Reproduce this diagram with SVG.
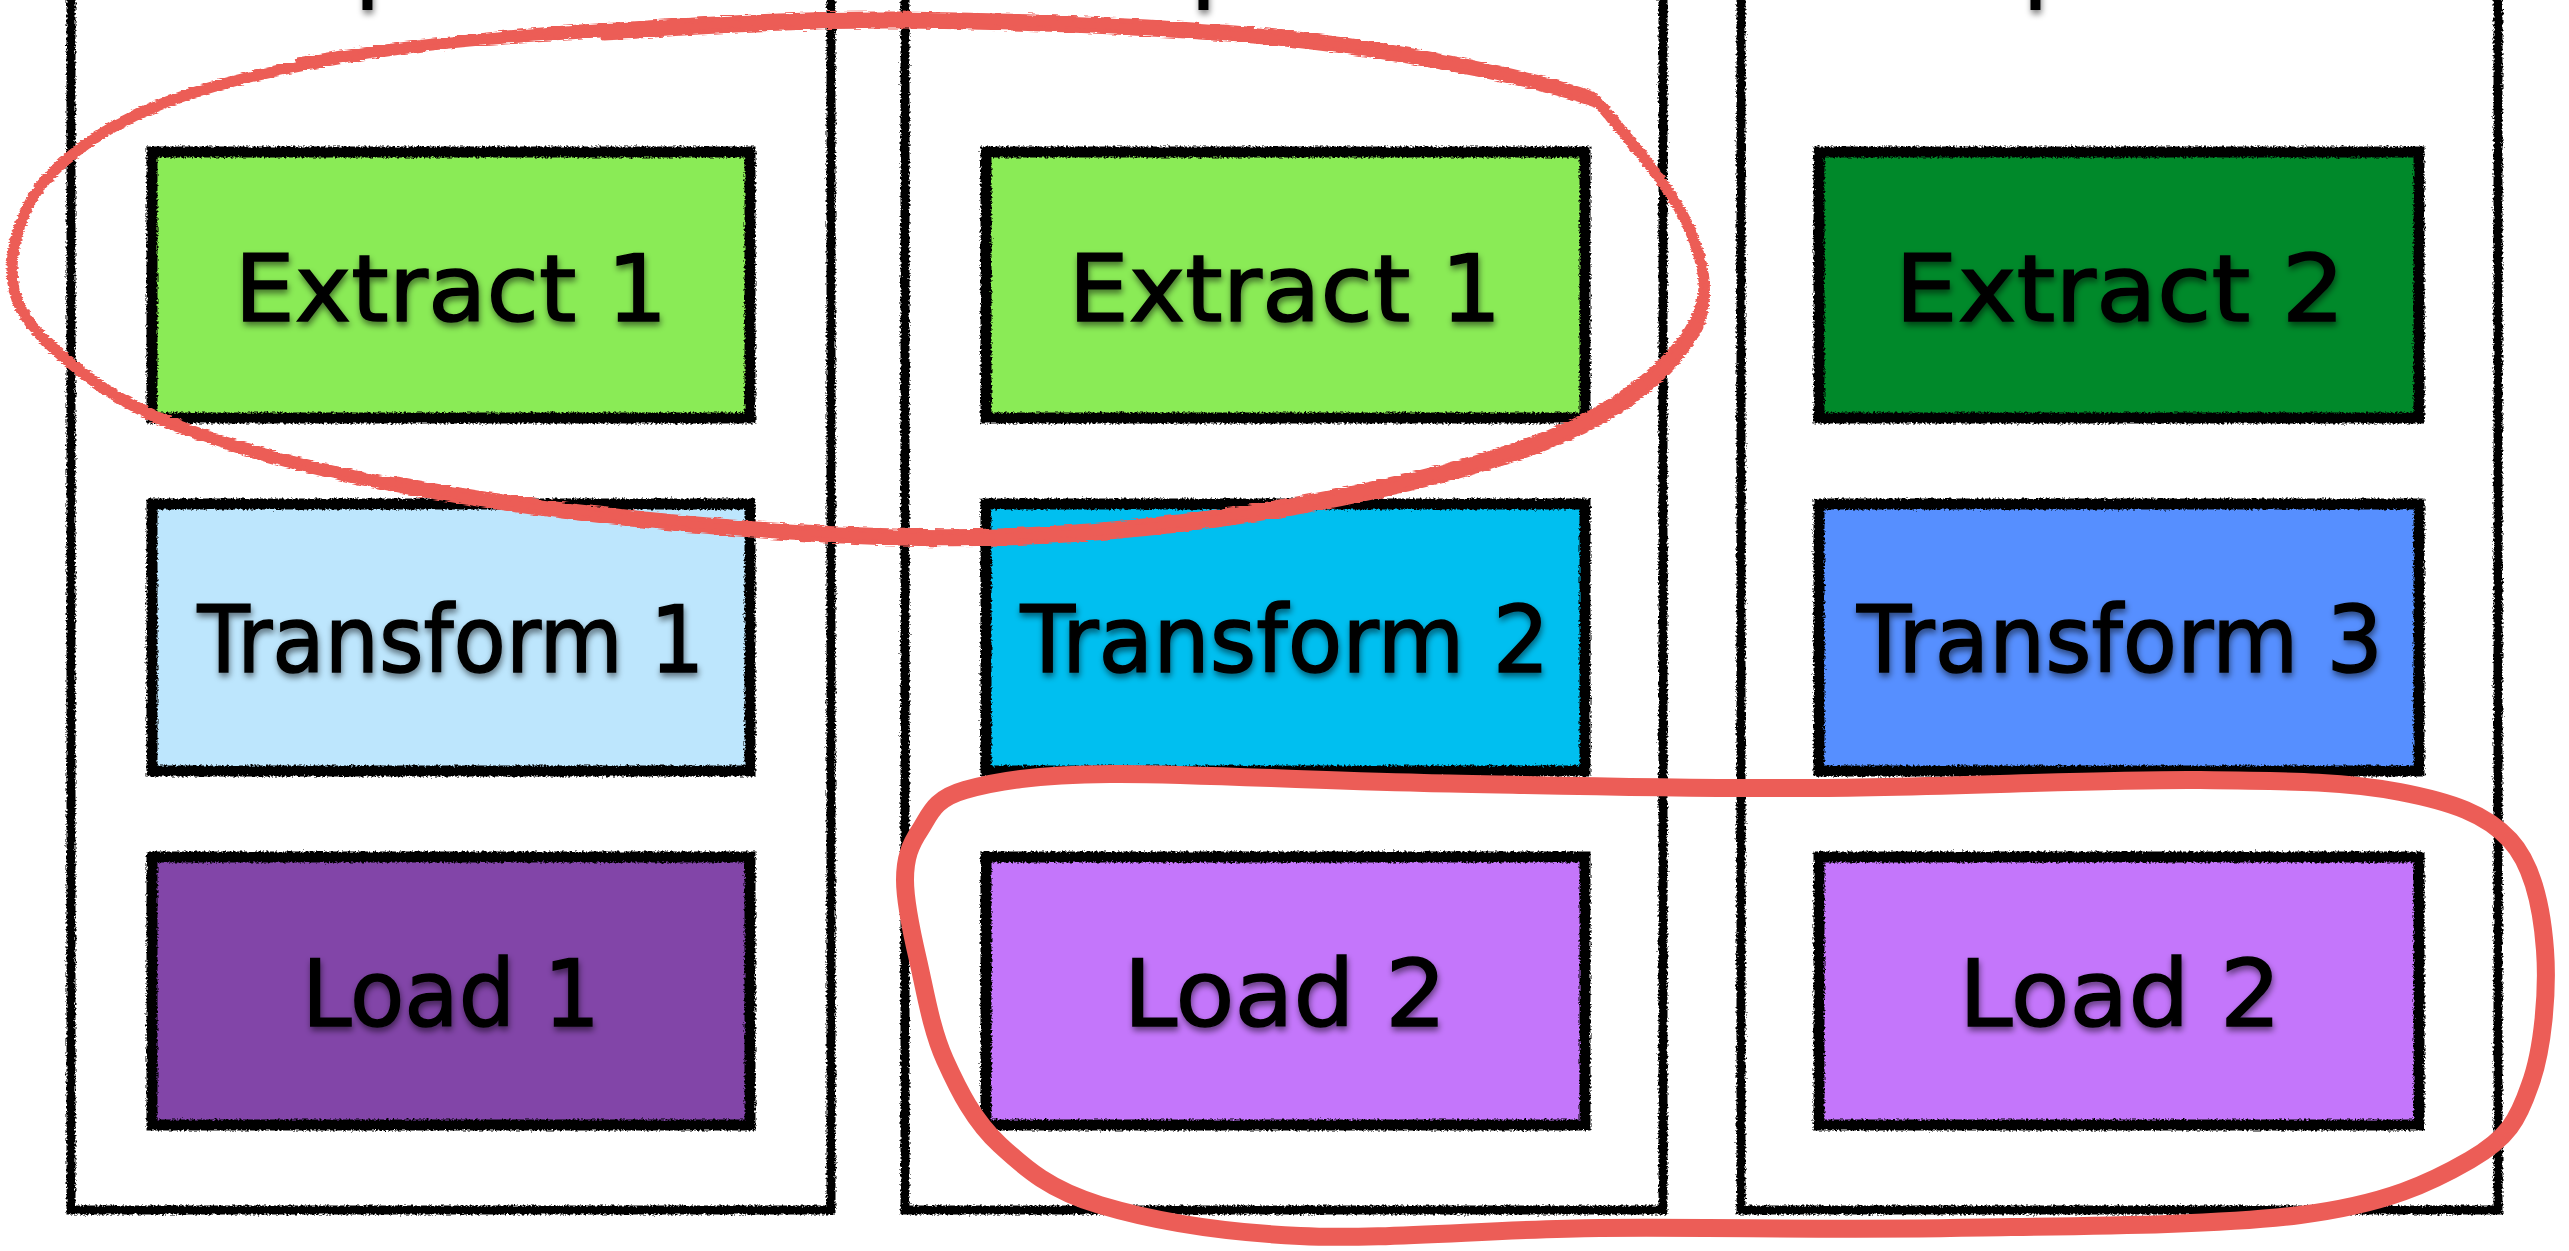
<svg xmlns="http://www.w3.org/2000/svg" width="2569" height="1251" viewBox="0 0 2569 1251">
<defs>
<style>
.col{fill:#ffffff;stroke:#000;stroke-width:9;filter:url(#rough)}
.box{stroke:#000;stroke-width:11;filter:url(#rough)}
.lbl{font-family:Chalkboard,"Comic Sans MS","DejaVu Sans",sans-serif;font-size:93px;fill:#000;stroke:#000;stroke-width:1.5;text-anchor:middle;filter:url(#shadow)}
.ttl{font-family:Chalkboard,"Comic Sans MS","DejaVu Sans",sans-serif;font-size:110px;fill:#000;filter:url(#shadow)}
.red{fill:none;stroke:#EC5D57;stroke-linecap:round;stroke-linejoin:round}
</style>
<filter id="rough" x="-3%" y="-3%" width="106%" height="106%">
<feTurbulence type="fractalNoise" baseFrequency="0.45" numOctaves="2" seed="4" result="n"/>
<feDisplacementMap in="SourceGraphic" in2="n" scale="5" xChannelSelector="R" yChannelSelector="G"/>
</filter>
<filter id="sketch" x="-3%" y="-5%" width="106%" height="110%">
<feTurbulence type="fractalNoise" baseFrequency="0.08 0.6" numOctaves="2" seed="7" result="n"/>
<feDisplacementMap in="SourceGraphic" in2="n" scale="5" xChannelSelector="R" yChannelSelector="G"/>
</filter>
<filter id="shadow" x="-10%" y="-20%" width="120%" height="150%">
<feGaussianBlur in="SourceAlpha" stdDeviation="3"/>
<feOffset dx="1" dy="4" result="b"/>
<feComponentTransfer><feFuncA type="linear" slope="0.5"/></feComponentTransfer>
<feMerge><feMergeNode/><feMergeNode in="SourceGraphic"/></feMerge>
</filter>
</defs>
<rect width="2569" height="1251" fill="#ffffff"/>

<g id="pipeline1">
<rect class="col" x="71" y="-40" width="760" height="1250"/>
<text class="ttl" x="258" y="-13">Pipeline 1</text>
</g>
<g id="pipeline2">
<rect class="col" x="905" y="-40" width="758" height="1250"/>
<text class="ttl" x="1094" y="-13">Pipeline 2</text>
</g>
<g id="pipeline3">
<rect class="col" x="1741" y="-40" width="757" height="1250"/>
<text class="ttl" x="1926" y="-13">Pipeline 3</text>
</g>

<g id="extract1a">
<rect class="box" x="152" y="152" width="598" height="266" fill="#8AEB56"/>
<text class="lbl" x="451" y="321" textLength="433" lengthAdjust="spacingAndGlyphs">Extract 1</text>
</g>
<g id="transform1">
<rect class="box" x="152" y="504" width="598" height="267" fill="#BDE6FD"/>
<text class="lbl" x="451" y="672" textLength="507" lengthAdjust="spacingAndGlyphs">Transform 1</text>
</g>
<g id="load1">
<rect class="box" x="152" y="857" width="598" height="268" fill="#8245A8"/>
<text class="lbl" x="451" y="1026" textLength="298" lengthAdjust="spacingAndGlyphs">Load 1</text>
</g>

<g id="extract1b">
<rect class="box" x="986" y="152" width="599" height="266" fill="#8AEB56"/>
<text class="lbl" x="1285" y="321" textLength="433" lengthAdjust="spacingAndGlyphs">Extract 1</text>
</g>
<g id="transform2">
<rect class="box" x="986" y="504" width="599" height="267" fill="#00BFF0"/>
<text class="lbl" x="1285" y="672" textLength="529" lengthAdjust="spacingAndGlyphs">Transform 2</text>
</g>
<g id="load2a">
<rect class="box" x="986" y="857" width="599" height="268" fill="#C476FB"/>
<text class="lbl" x="1285" y="1026" textLength="323" lengthAdjust="spacingAndGlyphs">Load 2</text>
</g>

<g id="extract2">
<rect class="box" x="1819" y="152" width="600" height="266" fill="#00892C"/>
<text class="lbl" x="2120" y="321" textLength="450" lengthAdjust="spacingAndGlyphs">Extract 2</text>
</g>
<g id="transform3">
<rect class="box" x="1819" y="504" width="600" height="267" fill="#568FFF"/>
<text class="lbl" x="2120" y="672" textLength="526" lengthAdjust="spacingAndGlyphs">Transform 3</text>
</g>
<g id="load2b">
<rect class="box" x="1819" y="857" width="600" height="268" fill="#C476FB"/>
<text class="lbl" x="2120" y="1026" textLength="322" lengthAdjust="spacingAndGlyphs">Load 2</text>
</g>

<g id="connectors">
<g id="shared-extract" filter="url(#sketch)">
<path class="red" stroke-width="11" d="M380,52 C451,41 513,37 600,32 C687,27 783,19 900,20 C1017,21 1184,27 1300,40 C1416,53 1540,80 1596,100 C1630,140 1674,191 1690,230 C1706,269 1712,301 1690,335 C1668,369 1625,407 1560,435 C1495,463 1393,488 1300,505 C1207,522 1100,534 1000,537 C900,540 800,534 700,525 C600,516 488,502 400,485 C312,468 230,446 172,423 C114,400 77,371 50,345 C23,320 12,298 12,270 C12,242 23,203 50,175 C77,147 117,120 172,100 C227,80 309,63 380,52"/>
<path class="red" stroke-width="5" transform="translate(3,6)" d="M600,32 C687,27 783,19 900,20 C1017,21 1184,27 1300,40 C1416,53 1540,80 1596,100 C1630,140 1674,191 1690,230 C1706,269 1712,301 1690,335 C1668,369 1625,407 1560,435 C1495,463 1393,488 1300,505 C1207,522 1100,534 1000,537 C900,540 800,534 700,525 C600,516 488,502 400,485 C312,468 230,446 172,423 C114,400 77,371 50,345"/>
<path class="red" stroke-width="5" transform="translate(-3,-6)" d="M300,66 C380,52 513,37 600,32 C687,27 783,19 900,20 C1017,21 1184,27 1300,40 C1416,53 1540,80 1596,100 C1630,140 1674,191 1690,230 C1706,269 1712,301 1690,335 C1668,369 1625,407 1560,435 C1495,463 1393,488 1300,505 C1207,522 1100,534 1000,537 C900,540 800,534 700,525 C600,516 488,502 400,485"/>
<path class="red" stroke-width="3" transform="translate(-6,2)" d="M172,100 C227,80 309,63 380,52 C451,41 513,37 600,32"/>
</g>
<path id="shared-load" class="red" stroke-width="18" d="M965,790 C997,781 1034,775 1110,774 C1186,773 1309,781 1424,783 C1539,785 1671,789 1800,788 C1929,788 2100,779 2200,780 C2300,781 2348,782 2400,792 C2452,802 2486,814 2510,840 C2534,866 2542,909 2545,950 C2548,991 2543,1050 2530,1085 C2518,1120 2508,1138 2470,1160 C2432,1182 2387,1204 2300,1215 C2213,1226 2067,1226 1950,1228 C1833,1230 1708,1227 1600,1228 C1492,1229 1383,1240 1300,1236 C1217,1232 1150,1220 1100,1205 C1050,1190 1026,1169 1000,1145 C974,1121 959,1091 945,1060 C931,1029 925,990 918,960 C911,930 905,902 905,880 C905,858 910,845 920,830 C930,815 933,799 965,790 Z"/>
</g>
</svg>
